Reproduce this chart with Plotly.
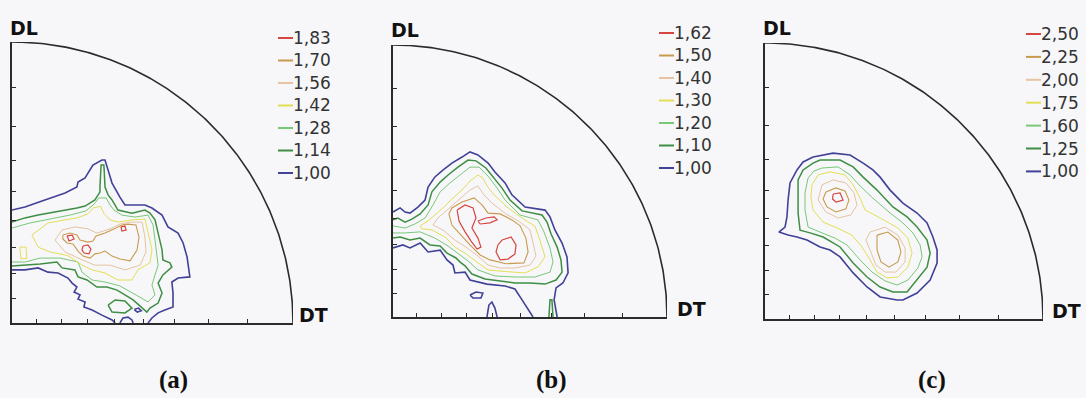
import math
import plotly.graph_objects as go

# ------------------------------------------------------------------ data
# Contour levels of the three pole figures (legend order, top to bottom)
LEVELS_A = [1.83, 1.70, 1.56, 1.42, 1.28, 1.14, 1.00]
LEVELS_B = [1.62, 1.50, 1.40, 1.30, 1.20, 1.10, 1.00]
LEVELS_C = [2.50, 2.25, 2.00, 1.75, 1.60, 1.25, 1.00]

# Tilt angles (degrees) marked along the DL and DT axes
TICK_ANGLES = [10, 20, 30, 40, 50, 60, 70, 80]

# Iso-intensity lines as (DT, DL) points, in percent of the projection radius
# --- pole figure (a)
A_183 = [
    [(25.3, 27.4), (27.0, 27.8), (28.1, 26.3), (27.4, 24.6), (25.6, 24.9), (24.9, 26.0), (25.3, 27.4)],
    [(38.8, 34.2), (40.2, 34.5), (40.6, 33.1), (39.1, 32.7), (38.8, 34.2)],
    [(19.6, 31.0), (21.4, 31.3), (22.1, 29.9), (20.3, 29.2), (19.6, 31.0)],
]
A_170 = [
    [(18.1, 31.3), (20.6, 32.0), (23.1, 31.3), (24.2, 29.5), (27.0, 28.8), (28.8, 29.2), (29.9, 31.0),
     (33.1, 32.0), (37.0, 33.8), (39.1, 34.9), (41.3, 35.2), (44.1, 34.9), (45.2, 30.6), (44.5, 26.0),
     (42.0, 22.1), (38.4, 22.8), (35.6, 23.8), (33.1, 25.6), (31.3, 24.9), (29.5, 24.6), (27.8, 23.1),
     (25.3, 23.8), (23.5, 25.6), (21.7, 28.1), (19.6, 28.5), (18.1, 29.9), (18.1, 31.3)],
]
A_156 = [
    [(15.3, 29.5), (17.8, 33.1), (22.4, 34.2), (27.0, 33.5), (30.2, 32.0), (34.9, 33.5), (38.4, 35.2),
     (42.0, 35.9), (46.3, 35.9), (47.3, 30.6), (47.7, 25.3), (45.6, 20.6), (40.2, 18.9), (34.9, 20.6),
     (29.5, 20.6), (24.2, 22.8), (18.9, 25.3), (15.3, 29.5)],
]
A_142 = [
    [(7.1, 31.3), (12.8, 35.6), (18.9, 36.7), (23.1, 37.4), (27.0, 38.8), (29.0, 41.0), (31.5, 41.5),
     (32.7, 39.0), (34.9, 36.7), (37.7, 35.9), (42.7, 36.7), (47.3, 37.0), (48.8, 30.6), (49.8, 26.0),
     (49.1, 21.4), (44.8, 18.9), (42.7, 15.3), (37.7, 15.3), (33.1, 17.8), (28.5, 18.9), (24.9, 20.6),
     (19.9, 24.0), (13.5, 25.3), (9.3, 27.0), (7.1, 31.3)],
    [(2.8, 27.0), (5.0, 27.0), (5.3, 23.0), (3.2, 22.8), (2.8, 27.0)],
]
A_128 = [
    [(0, 33.8), (6.4, 35.6), (13.5, 37.0), (20.6, 38.4), (26.3, 39.9), (29.2, 42.3), (30.9, 44.5),
     (33.5, 44.5), (34.9, 42.0), (36.3, 40.2), (39.1, 38.4), (43.8, 37.7), (48.4, 38.4), (50.2, 34.9),
     (50.9, 29.5), (51.6, 24.2), (52.0, 20.6), (50.9, 17.1), (49.8, 13.5), (50.9, 10.0), (48.4, 7.5),
     (44.8, 9.6), (38.4, 13.2), (33.1, 14.6), (28.5, 15.3), (24.9, 18.1), (23.5, 21.7), (17.1, 23.1),
     (10.0, 23.1), (4.6, 21.7), (0, 21.7)],
]
A_114 = [
    [(0, 35.9), (4.6, 37.4), (9.3, 38.4), (15.3, 39.5), (19.9, 40.2), (23.1, 40.9), (26.0, 41.6),
     (29.5, 43.8), (31.3, 46.6), (31.3, 48.4), (31.7, 56.2), (32.7, 56.2), (33.1, 48.4), (34.2, 45.6),
     (35.6, 43.8), (37.7, 40.2), (42.7, 39.1), (47.3, 40.2), (49.1, 39.1), (50.9, 36.7), (52.0, 32.0),
     (53.4, 26.0), (53.7, 22.4), (56.2, 21.4), (56.9, 19.9), (53.7, 17.1), (52.0, 14.2), (53.4, 10.7),
     (52.0, 7.1), (49.1, 5.3), (48.0, 3.9), (45.6, 6.0), (43.1, 8.2), (37.4, 11.7), (33.8, 12.8),
     (30.2, 12.8), (26.7, 15.3), (23.5, 16.4), (22.4, 18.9), (17.8, 19.6), (16.0, 21.7), (10.0, 21.0),
     (4.6, 20.6), (0, 20.3)],
    [(34.2, 6.4), (36.7, 8.2), (40.2, 7.8), (42.7, 5.3), (40.2, 3.6), (35.6, 3.9), (34.2, 6.4)],
]
A_100 = [
    [(0, 40.2), (4.6, 41.3), (11.7, 43.8), (18.9, 46.3), (23.1, 48.4), (23.5, 50.2), (26.0, 51.6),
     (28.8, 56.2), (32.0, 58.0), (33.1, 58.0), (34.2, 54.4), (35.6, 49.8), (38.4, 44.8), (40.2, 42.0),
     (47.3, 42.0), (49.8, 40.9), (53.4, 38.4), (55.5, 34.2), (59.1, 32.0), (60.9, 28.5), (62.3, 23.5),
     (63.3, 16.4), (59.1, 16.0), (56.9, 14.6), (57.3, 10.7), (57.3, 5.7), (54.4, 4.6), (52.0, 3.6),
     (49.8, 1.8), (48.4, 0)],
    [(0, 18.9), (4.6, 18.9), (9.3, 19.6), (12.8, 18.1), (16.4, 17.8), (19.9, 16.0), (21.4, 14.2),
     (23.1, 12.8), (22.1, 11.0), (24.2, 10.0), (23.5, 8.5), (26.0, 7.5), (25.6, 5.7), (28.5, 4.6),
     (32.0, 2.8), (35.6, 1.1), (36.7, 0)],
    [(43.5, 4.8), (45.0, 5.3), (46.0, 4.4), (44.6, 3.9), (43.5, 4.8)],
    [(38.4, 0), (39.5, 1.8), (41.3, 2.1), (42.7, 1.1), (43.1, 0)],
]

# --- pole figure (b)
B_162 = [
    [(23.4, 39.3), (26.3, 41.2), (29.2, 40.1), (30.3, 36.4), (28.8, 32.7), (31.0, 29.0), (32.1, 25.7),
     (30.7, 25.0), (28.5, 27.9), (26.3, 31.3), (24.1, 35.3), (23.4, 39.3)],
    [(31.0, 35.3), (33.9, 36.4), (36.9, 36.8), (38.0, 35.7), (35.4, 34.6), (31.8, 34.2), (31.0, 35.3)],
    [(39.8, 28.3), (43.1, 29.4), (44.9, 26.5), (44.5, 23.2), (42.0, 21.3), (39.1, 21.0), (37.6, 23.9),
     (38.3, 26.5), (39.8, 28.3)],
]
B_150 = [
    [(20.4, 37.9), (21.5, 40.1), (25.2, 42.3), (29.6, 43.8), (32.5, 41.2), (34.7, 38.2), (39.1, 37.9),
     (43.4, 35.7), (46.4, 33.5), (48.5, 29.0), (49.3, 23.9), (47.8, 19.9), (41.2, 19.6), (35.4, 21.0),
     (31.8, 22.8), (28.1, 26.5), (24.5, 30.5), (21.5, 33.8), (20.4, 37.9)],
]
B_140 = [
    [(28.1, 46.7), (31.0, 48.2), (33.2, 44.9), (36.1, 41.9), (41.2, 37.9), (46.4, 34.9), (50.0, 32.0),
     (51.1, 27.6), (52.2, 22.4), (50.0, 19.1), (44.5, 18.0), (39.1, 18.0), (34.7, 19.1), (31.0, 22.4),
     (26.6, 25.7), (22.6, 28.3), (18.2, 32.0), (14.6, 33.8), (16.4, 36.4), (19.7, 39.3), (23.7, 43.0),
     (28.1, 46.7)],
]
B_130 = [
    [(28.1, 50.0), (31.0, 52.2), (32.8, 51.1), (34.3, 48.2), (36.9, 44.9), (42.0, 40.1), (48.2, 35.6),
     (51.8, 33.5), (53.6, 28.3), (55.5, 22.1), (52.9, 18.4), (48.2, 16.2), (39.8, 16.8), (34.7, 17.3),
     (31.0, 19.9), (26.3, 23.5), (22.6, 25.7), (19.0, 29.4), (14.2, 32.0), (10.6, 32.4), (9.9, 33.5),
     (12.8, 35.3), (15.7, 37.9), (18.6, 40.4), (21.5, 43.4), (25.2, 46.7), (28.1, 50.0)],
]
B_120 = [
    [(0, 33.5), (4.4, 32.7), (8.0, 34.2), (11.7, 36.4), (14.6, 41.2), (17.2, 46.0), (20.8, 49.3),
     (24.5, 52.2), (28.1, 55.1), (31.4, 55.1), (34.7, 51.8), (38.0, 47.4), (40.9, 43.0), (46.4, 37.5),
     (52.9, 35.7), (55.1, 31.3), (57.3, 25.4), (58.4, 20.2), (57.3, 16.5), (51.8, 14.7), (44.5, 14.7),
     (37.2, 15.1), (31.0, 17.3), (27.4, 20.6), (23.7, 23.5), (20.1, 26.1), (15.3, 29.0), (9.9, 31.3),
     (4.4, 30.9), (0, 30.9)],
]
B_110 = [
    [(0, 35.7), (1.8, 36.4), (4.4, 34.9), (6.9, 36.0), (9.9, 37.9), (12.8, 41.2), (14.2, 46.0),
     (17.2, 49.6), (20.1, 52.2), (23.7, 55.1), (27.4, 57.7), (30.3, 57.4), (33.9, 54.8), (36.5, 51.5),
     (39.8, 47.4), (42.7, 43.0), (47.1, 39.0), (54.4, 37.5), (56.2, 34.9), (57.7, 30.5), (59.9, 25.7),
     (61.3, 21.0), (61.7, 16.5), (59.5, 13.6), (55.5, 12.1), (50.0, 12.5), (44.5, 12.5), (39.1, 13.2),
     (33.6, 14.0), (28.8, 15.8), (26.3, 18.8), (24.5, 20.2), (23.0, 21.7), (19.7, 23.5), (17.2, 26.1),
     (13.5, 26.5), (9.9, 29.0), (6.2, 28.3), (2.6, 29.4), (0, 29.0)],
    [(56.9, 0), (57.3, 6.3), (58.0, 6.3), (58.4, 0)],
]
B_100 = [
    [(0, 38.6), (2.6, 40.1), (4.4, 38.6), (6.2, 38.2), (9.1, 40.4), (11.7, 43.0), (12.8, 47.8),
     (15.3, 51.5), (18.2, 54.0), (21.5, 56.6), (25.2, 58.8), (28.1, 60.7), (31.0, 59.6), (34.7, 56.6),
     (37.2, 53.3), (40.9, 49.3), (43.4, 44.9), (48.2, 40.4), (55.5, 39.3), (57.3, 36.8), (59.1, 32.0),
     (61.7, 27.2), (63.5, 22.1), (63.9, 16.2), (62.0, 12.5), (59.5, 10.7), (58.8, 6.3), (59.5, 2.6),
     (59.9, 0)],
    [(0, 25.4), (3.6, 26.5), (6.2, 25.4), (9.9, 27.2), (12.8, 23.9), (17.2, 24.6), (19.7, 21.0),
     (21.9, 19.1), (22.6, 16.2), (26.3, 16.5), (28.1, 13.6), (34.3, 12.1), (40.9, 11.4), (44.5, 10.3),
     (47.1, 6.3), (48.9, 3.3), (51.1, 0)],
    [(28.1, 8.1), (30.3, 9.2), (32.8, 8.8), (32.1, 7.0), (29.2, 7.0), (28.1, 8.1)],
    [(34.3, 0), (35.0, 4.4), (36.1, 5.5), (37.2, 3.3), (38.0, 0)],
]

# --- pole figure (c)
C_250 = [
    [(24.5, 45.3), (27.0, 45.7), (28.1, 43.1), (25.5, 42.4), (24.3, 43.5), (24.5, 45.3)],
]
C_225 = [
    [(21.9, 46.0), (25.5, 47.5), (28.8, 46.4), (30.2, 43.1), (29.1, 39.9), (25.5, 38.8), (22.3, 40.6),
     (20.9, 43.5), (21.9, 46.0)],
    [(40.3, 30.4), (44.2, 31.5), (47.8, 28.6), (48.9, 24.3), (47.8, 20.7), (44.6, 18.8), (41.7, 20.7),
     (40.3, 25.0), (40.3, 30.4)],
]
C_200 = [
    [(20.5, 48.6), (24.5, 50.4), (29.1, 49.3), (32.0, 45.7), (33.1, 41.3), (30.9, 37.7), (26.3, 36.6),
     (21.9, 38.8), (19.1, 43.1), (20.5, 48.6)],
    [(37.8, 31.5), (43.2, 33.3), (47.8, 30.4), (50.4, 25.7), (50.4, 20.7), (47.1, 17.0), (43.2, 17.0),
     (39.9, 19.6), (37.8, 25.0), (36.3, 28.6), (37.8, 31.5)],
]
C_175 = [
    [(19.1, 52.2), (23.4, 53.3), (28.8, 52.2), (31.7, 48.6), (34.2, 43.8), (36.0, 39.5), (41.4, 36.6),
     (47.8, 33.0), (51.4, 29.3), (52.9, 23.9), (51.4, 18.8), (47.8, 15.2), (43.9, 14.9), (40.3, 17.0),
     (37.8, 21.4), (34.9, 26.1), (31.3, 30.4), (25.9, 33.0), (20.9, 35.1), (17.3, 39.5), (16.5, 44.2),
     (16.9, 48.6), (19.1, 52.2)],
]
C_160 = [
    [(20.5, 54.7), (26.3, 55.1), (30.6, 52.2), (34.2, 48.2), (38.8, 43.8), (45.0, 38.4), (49.6, 34.8),
     (53.2, 31.2), (55.8, 26.8), (56.5, 22.5), (55.0, 18.5), (51.4, 14.1), (47.5, 12.3), (43.2, 13.8),
     (38.5, 17.0), (34.2, 21.4), (29.5, 26.8), (25.2, 29.3), (19.8, 31.5), (15.5, 33.3), (14.4, 39.5),
     (14.4, 45.7), (15.5, 51.1), (17.6, 53.6), (20.5, 54.7)],
]
C_125 = [
    [(19.8, 57.6), (27.0, 57.6), (31.7, 55.1), (35.3, 51.4), (40.3, 46.7), (46.0, 40.6), (51.1, 37.0),
     (54.7, 33.3), (58.3, 28.6), (59.4, 23.9), (58.3, 18.8), (54.7, 14.1), (51.1, 9.8), (46.0, 9.8),
     (41.4, 11.6), (36.7, 15.2), (31.7, 20.3), (27.0, 26.1), (20.9, 29.7), (16.2, 31.2), (12.6, 32.2),
     (11.9, 38.4), (11.9, 44.2), (11.9, 50.4), (13.7, 54.0), (17.3, 56.5), (19.8, 57.6)],
]
C_100 = [
    [(17.3, 58.7), (24.5, 60.1), (30.6, 59.4), (35.3, 56.5), (38.8, 54.0), (41.4, 51.4), (45.0, 46.7),
     (49.6, 42.0), (54.7, 38.4), (58.3, 34.8), (60.4, 29.7), (61.9, 25.0), (61.9, 20.3), (59.4, 14.1),
     (54.7, 9.4), (49.6, 6.9), (47.5, 6.9), (41.4, 8.0), (36.7, 11.6), (31.7, 16.7), (27.0, 22.5),
     (23.4, 25.0), (19.8, 26.1), (15.1, 28.6), (11.5, 29.7), (8.3, 30.4), (5.0, 31.5), (7.2, 33.3),
     (7.9, 37.0), (8.3, 43.1), (9.0, 49.3), (11.5, 54.0), (13.7, 56.9), (17.3, 58.7)],
]

# ------------------------------------------------------------------ style
W, H = 1086, 398
BG = "#f7f7f9"
FRAME = "#2b2b2b"
TEXT = "#333333"
# one colour per contour rank, highest level first
LINE_COLORS = ["#d6453f", "#c99a4e", "#e6c3a2", "#e2df56", "#78c878", "#3e8e44", "#414198"]
LINE_WIDTHS = [1.2, 1.1, 1.0, 1.0, 1.0, 1.5, 1.6]

PANELS = [
    dict(levels=LEVELS_A, paths=[A_183, A_170, A_156, A_142, A_128, A_114, A_100],
         origin=(12, 323), radius=(281, 281), legend=(278, 38, 22.5),
         dl=(9, 28), dt=(298, 315), caption=("(a)", 173)),
    dict(levels=LEVELS_B, paths=[B_162, B_150, B_140, B_130, B_120, B_110, B_100],
         origin=(393, 317), radius=(274, 272), legend=(659, 33, 22.5),
         dl=(390, 30), dt=(676, 309), caption=("(b)", 551)),
    dict(levels=LEVELS_C, paths=[C_250, C_225, C_200, C_175, C_160, C_125, C_100],
         origin=(765, 319), radius=(278, 276), legend=(1026, 34, 22.9),
         dl=(762, 28), dt=(1051, 311), caption=("(c)", 932)),
]

tick_vals = [100 * math.tan(math.radians(a / 2)) for a in TICK_ANGLES]
arc_t = [math.radians(0.5 * i) for i in range(181)]


def fmt(v):
    return f"{v:.2f}".replace(".", ",")


def px(x):
    return x / W


def py(y):
    return 1 - y / H


fig = go.Figure()
layout = {}
shapes, annotations = [], []

for k, p in enumerate(PANELS, start=1):
    sfx = "" if k == 1 else str(k)
    xa, ya = "x" + sfx, "y" + sfx

    # iso-intensity lines, lowest level drawn first
    ranks = list(enumerate(zip(p["levels"], p["paths"])))
    for rank, (lv, paths) in reversed(ranks):
        for path in paths:
            fig.add_trace(go.Scatter(
                x=[q[0] for q in path], y=[q[1] for q in path], mode="lines",
                line=dict(color=LINE_COLORS[rank], width=LINE_WIDTHS[rank]),
                name=fmt(lv), xaxis=xa, yaxis=ya, showlegend=False, hoverinfo="skip"))

    # outer circle of the projection
    fig.add_trace(go.Scatter(
        x=[100 * math.cos(t) for t in arc_t], y=[100 * math.sin(t) for t in arc_t],
        mode="lines", line=dict(color=FRAME, width=1.6),
        xaxis=xa, yaxis=ya, showlegend=False, hoverinfo="skip"))

    x0, y0 = p["origin"]
    rx, ry = p["radius"]
    common = dict(range=[0, 100], showgrid=False, zeroline=False, showline=True,
                  linecolor=FRAME, linewidth=1.5, ticks="inside", ticklen=4, tickwidth=1,
                  tickcolor=FRAME, tickvals=tick_vals, showticklabels=False, fixedrange=True)
    layout["xaxis" + sfx] = dict(domain=[px(x0), px(x0 + rx)], anchor=ya, **common)
    layout["yaxis" + sfx] = dict(domain=[py(y0), py(y0 - ry)], anchor=xa, **common)

    # level key
    lx, ly, step = p["legend"]
    for rank, lv in enumerate(p["levels"]):
        yy = ly + rank * step
        shapes.append(dict(type="line", xref="paper", yref="paper",
                           x0=px(lx), x1=px(lx + 15), y0=py(yy), y1=py(yy),
                           line=dict(color=LINE_COLORS[rank], width=2)))
        annotations.append(dict(text=fmt(lv), xref="paper", yref="paper",
                                x=px(lx + 14), y=py(yy), xanchor="left", yanchor="middle",
                                showarrow=False, borderpad=0,
                                font=dict(family="DejaVu Sans", size=17, color=TEXT)))

    # direction labels
    for txt, (tx, ty) in (("DL", p["dl"]), ("DT", p["dt"])):
        annotations.append(dict(text=f"<b>{txt}</b>", xref="paper", yref="paper",
                                x=px(tx), y=py(ty), xanchor="left", yanchor="middle",
                                showarrow=False, borderpad=0,
                                font=dict(family="DejaVu Sans", size=19, color="#111111")))

    cap, cx = p["caption"]
    annotations.append(dict(text=f"<b>{cap}</b>", xref="paper", yref="paper",
                            x=px(cx), y=py(380), xanchor="center", yanchor="middle",
                            showarrow=False,
                            font=dict(family="Liberation Serif", size=25, color="#111111")))

fig.update_layout(
    width=W, height=H, autosize=False,
    margin=dict(l=0, r=0, t=0, b=0),
    paper_bgcolor=BG, plot_bgcolor=BG,
    showlegend=False, shapes=shapes, annotations=annotations,
    **layout,
)

fig.write_html("out.html", config={"displayModeBar": False})
